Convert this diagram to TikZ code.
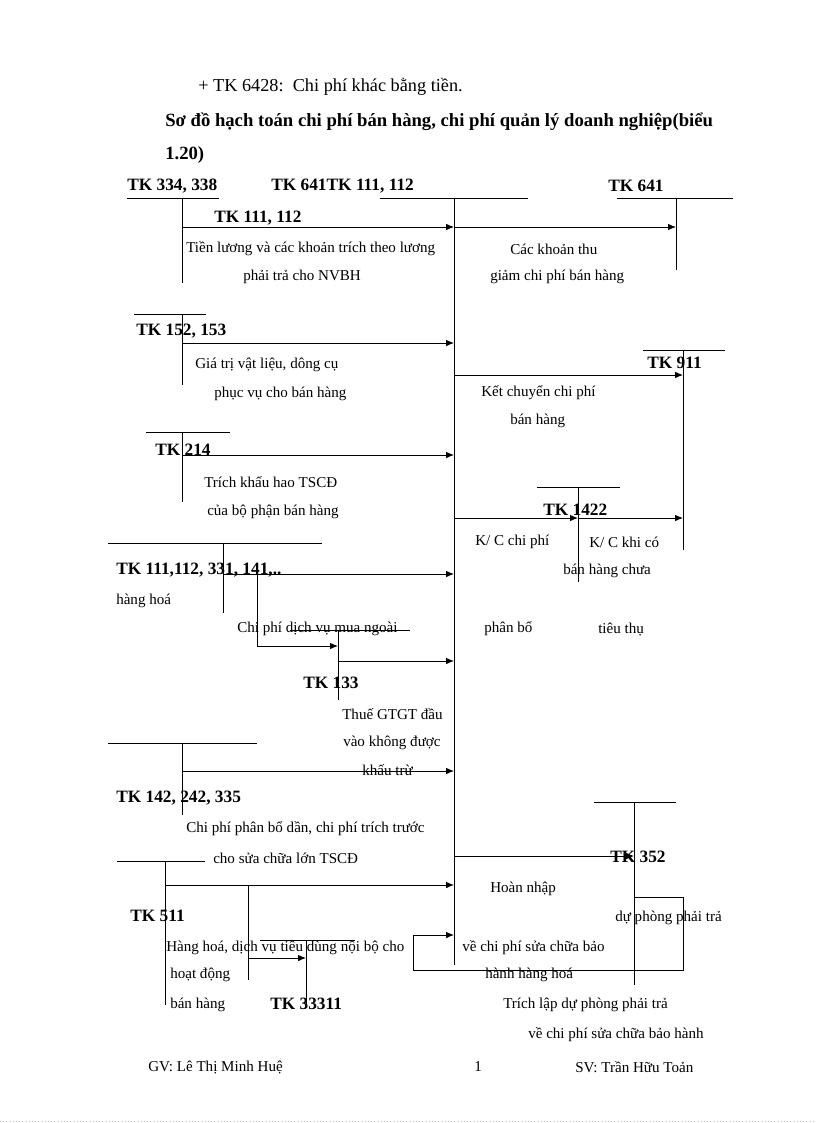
\documentclass[tikz,border=0pt]{standalone}
\usepackage{fontspec}
\setmainfont{Liberation Serif}
\usetikzlibrary{arrows.meta}
\begin{document}
\begin{tikzpicture}[x=0.75pt,y=-0.75pt,
  txt/.style={anchor=west,inner sep=0pt,font=\fontsize{11.3}{13}\selectfont},
  lbl/.style={anchor=west,inner sep=0pt,font=\fontsize{13}{15}\selectfont\bfseries},
  big/.style={anchor=west,inner sep=0pt,font=\fontsize{14}{16}\selectfont\bfseries},
  ttl/.style={anchor=west,inner sep=0pt,font=\fontsize{13.7}{16}\selectfont},
  ln/.style={line width=0.7pt},
  ar/.style={line width=0.7pt,-{Latex[length=6pt,width=5pt]}}]
\useasboundingbox (0,0) rectangle (816,1123);
% titles
\node[ttl] (t1) at (198,87) {+ TK 6428:\ \ Chi phí khác bằng tiền.};
\node[big] (t2) at (165,122) {Sơ đồ hạch toán chi phí bán hàng, chi phí quản lý doanh nghiệp(biểu};
\node[big] (t3) at (165,155) {1.20)};
% T-accounts
\draw[ln] (127,198)--(219,198) (182,198)--(182,283);
\draw[ln] (380,198)--(528,198) (454,198)--(454,965);
\draw[ln] (617,198)--(733,198) (676,198)--(676,270);
\draw[ln] (134,314)--(206,314) (182,314)--(182,385);
\draw[ln] (643,350)--(725,350) (683,350)--(683,550);
\draw[ln] (146,432)--(230,432) (182,432)--(182,502);
\draw[ln] (537,487)--(620,487) (578,487)--(578,582);
\draw[ln] (108,543)--(322,543) (223,543)--(223,613);
\draw[ln] (290,630)--(410,630) (338,630)--(338,700);
\draw[ln] (108,743)--(257,743) (182,743)--(182,815);
\draw[ln] (594,802)--(676,802) (634,802)--(634,985);
\draw[ln] (117,861)--(205,861) (165,861)--(165,1005);
\draw[ln] (260,940)--(355,940) (306,940)--(306,1005);
% labels
\node[lbl] (a1) at (127,186) {TK 334, 338};
\node[lbl] (a2) at (271,186) {TK 641TK 111, 112};
\node[lbl] (a3) at (608,186) {TK 641};
\node[lbl] (a4) at (214,218) {TK 111, 112};
\node[lbl] (a5) at (136,331) {TK 152, 153};
\node[lbl] (a6) at (647,363) {TK 911};
\node[lbl] (a7) at (155,450) {TK 214};
\node[lbl] (a8) at (543,510) {TK 1422};
\node[lbl] (a9) at (116,570) {TK 111,112, 331, 141,..};
\node[lbl] (a10) at (303,683) {TK 133};
\node[lbl] (a11) at (116,798) {TK 142, 242, 335};
\node[lbl] (a12) at (610,857) {TK 352};
\node[lbl] (a13) at (130,916) {TK 511};
\node[lbl] (a14) at (270,1004) {TK 33311};
% arrows
\draw[ar] (182,227)--(454,227);
\draw[ar] (454,227)--(676,227);
\draw[ar] (182,343)--(454,343);
\draw[ar] (454,375)--(683,375);
\draw[ar] (182,455)--(454,455);
\draw[ar] (454,518)--(578,518);
\draw[ar] (578,518)--(683,518);
\draw[ar] (223,574)--(454,574);
\draw[ar] (257,574)--(257,646)--(338,646);
\draw[ar] (338,661)--(454,661);
\draw[ar] (182,771)--(454,771);
\draw[ar] (454,856)--(634,856);
\draw[ar] (634,897)--(683,897)--(683,970)--(413,970)--(413,935)--(454,935);
\draw[ar] (165,885)--(454,885);
\draw[ln] (248,885)--(248,980);
\draw[ar] (248,958)--(306,958);
% texts
\node[txt] (b1) at (186,249) {Tiền\ lương\ và các khoản trích\ theo lương};
\node[txt] (b2) at (243,277) {phải trả cho NVBH};
\node[txt] (b3) at (510,249) {Các khoản thu};
\node[txt] (b4) at (490,277) {giảm\ chi\ phí bán hàng};
\node[txt] (b5) at (195,365) {Giá\ trị vật liệu,\ dông cụ};
\node[txt] (b6) at (214,394) {phục\ vụ cho bán hàng};
\node[txt] (b7) at (481,393) {Kết chuyển\ chi\ phí};
\node[txt] (b8) at (510,421) {bán hàng};
\node[txt] (b9) at (204,482) {Trích khấu hao TSCĐ};
\node[txt] (b10) at (207,512) {của bộ phận bán hàng};
\node[txt] (b11) at (475,542) {K/ C chi\ phí};
\node[txt] (b12) at (589,542) {K/ C khi\ có};
\node[txt] (b13) at (563,571) {bán hàng\ chưa};
\node[txt] (b14) at (484,629) {phân bổ};
\node[txt] (b15) at (598,629) {tiêu\ thụ};
\node[txt] (b16) at (116,601) {hàng\ hoá};
\node[txt] (b17) at (237,629) {Chi\ phí\ dịch\ vụ mua\ ngoài};
\node[txt] (b18) at (342,714) {Thuế\ GTGT\ đầu};
\node[txt] (b19) at (343,743) {vào không được};
\node[txt] (b20) at (362,770) {khấu trừ};
\node[txt] (b21) at (186,829) {Chi\ phí phân bổ dần, chi\ phí trích\ trước};
\node[txt] (b22) at (213,858) {cho\ sửa chữa lớn TSCĐ};
\node[txt] (b23) at (490,889) {Hoàn nhập};
\node[txt] (b24) at (615,918) {dự phòng\ phải\ trả};
\node[txt] (b25) at (166,948) {Hàng hoá,\ dịch\ vụ tiêu\ dùng nội bộ cho};
\node[txt] (b26) at (170,975) {hoạt động};
\node[txt] (b27) at (170,1005) {bán hàng};
\node[txt] (b28) at (462,948) {về chi phí sửa chữa bảo};
\node[txt] (b29) at (485,975) {hành\ hàng hoá};
\node[txt] (b30) at (503,1005) {Trích\ lập\ dự phòng\ phải trả};
\node[txt] (b31) at (528,1035) {về chi phí\ sửa chữa bảo hành};
% footer
\node[txt] (f1) at (148,1067) {GV: Lê Thị\ Minh\ Huệ};
\node[txt] (f2) at (474,1067) {1};
\node[txt] (f3) at (575,1067) {SV: Trần Hữu Toản};
\draw[gray!50,dotted] (0,1121)--(816,1121);
\end{tikzpicture}
\end{document}
